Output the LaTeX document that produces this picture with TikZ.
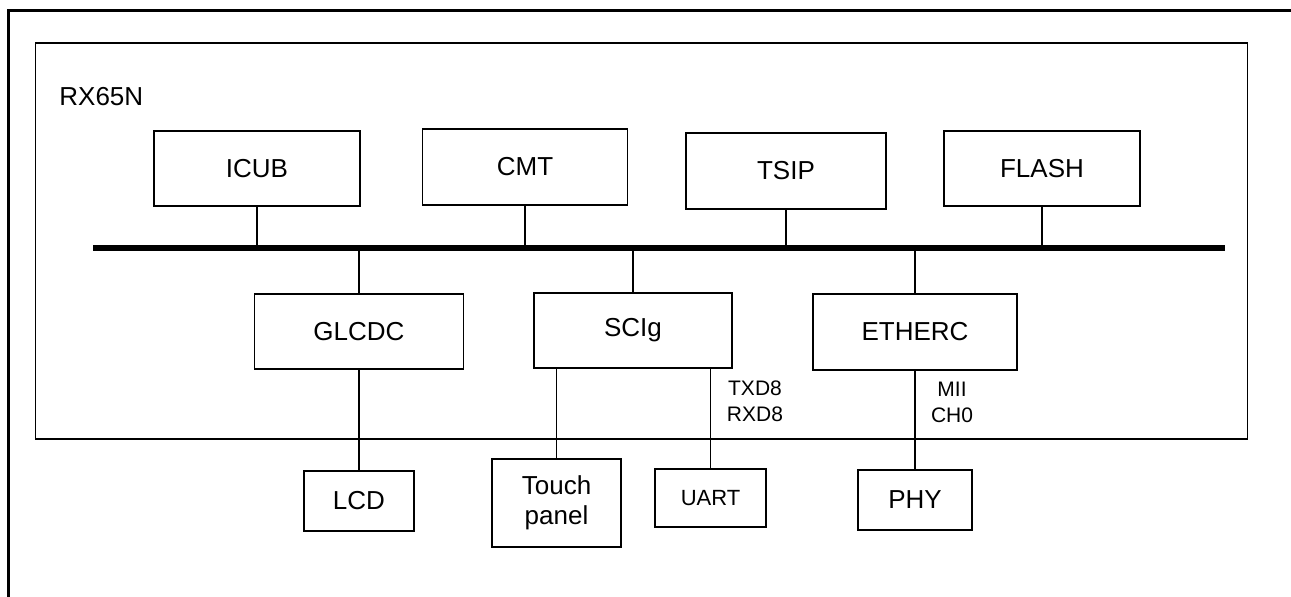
\documentclass[tikz,border=0pt]{standalone}
\usepackage{fontspec}
\setmainfont{Liberation Sans}
\usetikzlibrary{positioning}

\begin{document}
\begin{tikzpicture}[x=0.5pt,y=-0.5pt,
        box/.style={draw,line width=0.9pt,inner sep=0pt,align=center,
                    font=\fontsize{13}{15}\selectfont},
        note/.style={inner sep=0pt,align=center,
                    font=\fontsize{10.5}{13}\selectfont},
        wire/.style={line width=0.85pt},
        bus/.style={line width=2.6pt}]
    \useasboundingbox (0,0) rectangle (1291,597);
    % frame and chip outline
    \draw[line width=1.5pt] (8.5,597) -- (8.5,10.5) -- (1291,10.5);
    \node[draw,line width=0.9pt,inner sep=0pt,
          minimum width=606pt,minimum height=198pt] (chip) at (641.5,241) {};
    \node[font=\fontsize{13}{15}\selectfont,anchor=base west,inner sep=0pt]
        (name) at (59,106) {RX65N};

    % peripherals on the bus
    \node[box,minimum width=103pt,minimum height=37.5pt] (icub) at (257,168.5) {ICUB};
    \node[box,minimum width=102.5pt,minimum height=38pt] (cmt) at (525,167) {CMT};
    \node[box,minimum width=100pt,minimum height=38pt] (tsip) at (786,171) {TSIP};
    \node[box,minimum width=98pt,minimum height=37.5pt] (flash) at (1042,168.5) {FLASH};
    \node[box,minimum width=104.5pt,minimum height=37.5pt] (glcdc) at (359,331.5) {GLCDC};
    \node[box,minimum width=99pt,minimum height=37.5pt] (scig) at (633,330.5) {SCIg};
    \node[box,minimum width=102pt,minimum height=38pt] (etherc) at (915,332) {ETHERC};

    % external parts
    \node[box,minimum width=55pt,minimum height=30pt,below=50pt of glcdc] (lcd) {LCD};
    \node[box,minimum width=64.5pt,minimum height=44pt] (touch) at (556.5,503) {Touch\\panel};
    \node[box,font=\fontsize{11}{13}\selectfont,
          minimum width=55.5pt,minimum height=29pt] (uart) at (710.5,498) {UART};
    \node[box,minimum width=57pt,minimum height=30pt,below=49pt of etherc] (phy) {PHY};

    \node[note] (sci) at (755,401) {TXD8\\RXD8};
    \node[note] (mii) at (952,402) {MII\\CH0};

    % bus
    \coordinate (busw) at (93,248);
    \coordinate (buse) at (1225,248);
    \draw[bus] (busw) -- (buse);
    \foreach \n in {icub,cmt,tsip,flash}
        \draw[wire] (\n.south) -- (\n.south |- busw);
    \foreach \n in {glcdc,scig,etherc}
        \draw[wire] (\n.north |- busw) -- (\n.north);
    \draw[wire] (glcdc) -- (lcd);
    \draw[wire] (etherc) -- (phy);
    \draw[wire] (touch.north) -- (touch.north |- scig.south);
    \draw[wire] (uart.north) -- (uart.north |- scig.south);
\end{tikzpicture}
\end{document}
